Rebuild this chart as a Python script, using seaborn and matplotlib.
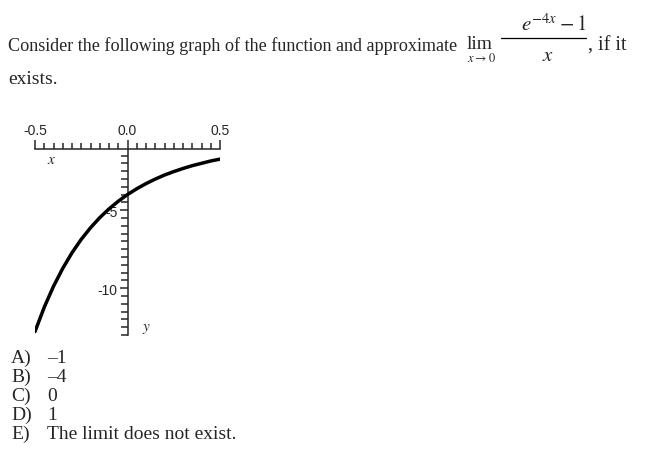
import numpy as np
import seaborn as sns
import matplotlib.pyplot as plt
from matplotlib.lines import Line2D
from matplotlib.ticker import MultipleLocator, FixedLocator

# values
x_values = [-0.5, -0.45, -0.4, -0.35, -0.3, -0.25, -0.2, -0.15, -0.1, -0.05, 0.0,
            0.05, 0.1, 0.15, 0.2, 0.25, 0.3, 0.35, 0.4, 0.45, 0.5]
y_values = [-12.78, -11.22, -9.88, -8.73, -7.73, -6.87, -6.13, -5.48, -4.92, -4.43, -4.0,
            -3.63, -3.30, -3.01, -2.75, -2.53, -2.33, -2.15, -2.00, -1.85, -1.73]
x_tick_values = [-0.5, 0.0, 0.5]
x_tick_labels = ["-0.5", "0.0", "0.5"]
y_tick_values = [-5, -10]
y_tick_labels = ["-5", "-10"]
option_letters = ["A)", "B)", "C)", "D)", "E)"]
option_texts = ["\u20131", "\u20134", "0", "1", "The limit does not exist."]

sns.set_style("white")
plt.rcParams['font.family'] = ['Liberation Serif', 'DejaVu Serif']
plt.rcParams['mathtext.fontset'] = 'stix'
plt.rcParams['axes.unicode_minus'] = False

W, H = 650, 460
fig = plt.figure(figsize=(6.5, 4.6), dpi=100)


def px(x, y):
    return x / W, 1 - y / H


# question text
fig.text(*px(8, 51), "Consider the following graph of the function and approximate",
         fontsize=13.1, va='baseline', ha='left')
fig.text(*px(467, 49), "lim", fontsize=14, va='baseline', ha='left')
fig.text(*px(481, 62), r"$x\to 0$", fontsize=9, va='baseline', ha='center')
fig.text(*px(554, 31), r"$e^{-4x}-1$", fontsize=15, va='baseline', ha='center')
fig.add_artist(Line2D([501 / W, 586 / W], [1 - 39 / H] * 2, color='black', lw=0.9))
fig.text(*px(548, 61), r"$x$", fontsize=15, va='baseline', ha='center')
fig.text(*px(588, 51), ", if it", fontsize=14.5, va='baseline', ha='left')
fig.text(*px(8, 84), "exists.", fontsize=14, va='baseline', ha='left')

# answer options
for i, (letter, text) in enumerate(zip(option_letters, option_texts)):
    base = 363 + i * 19.1
    fig.text(*px(11, base), letter, fontsize=14, va='baseline', ha='left')
    fig.text(*px(47, base), text, fontsize=14, va='baseline', ha='left')

# graph
left, right, top, bottom = 35, 220, 149.5, 336
ax = fig.add_axes([left / W, 1 - bottom / H, (right - left) / W, (bottom - top) / H])
ax.patch.set_alpha(0)
sns.lineplot(x=x_values, y=y_values, ax=ax, color='black', lw=2.5, zorder=5)
ax.set_xlim(-0.5, 0.5)
ax.set_ylim(-13.0, -1.05)

for side in ['bottom', 'right']:
    ax.spines[side].set_visible(False)
ax.spines['left'].set_position(('data', 0))
ax.spines['top'].set_linewidth(1.1)
ax.spines['left'].set_linewidth(1.1)

ax.xaxis.tick_top()
ax.xaxis.set_major_locator(FixedLocator(x_tick_values))
ax.set_xticklabels(x_tick_labels, family=['Liberation Sans', 'DejaVu Sans'], fontsize=10)
ax.xaxis.set_minor_locator(MultipleLocator(0.05))
ax.tick_params(axis='x', which='major', direction='out', length=6.5, width=1.1,
               top=True, bottom=False, labeltop=True, labelbottom=False, pad=2)
ax.tick_params(axis='x', which='minor', direction='out', length=4, width=1.1,
               top=True, bottom=False)

ax.yaxis.set_major_locator(FixedLocator(y_tick_values))
ax.set_yticklabels(y_tick_labels, family=['Liberation Sans', 'DejaVu Sans'], fontsize=10)
ax.yaxis.set_minor_locator(MultipleLocator(0.5))
ax.tick_params(axis='y', which='major', direction='out', length=5.5, width=1.1,
               left=True, right=False, pad=1.5)
ax.tick_params(axis='y', which='minor', direction='out', length=5, width=1.1,
               left=True, right=False)
ax.set_xlabel("")
ax.set_ylabel("")

# axis names
fig.text(*px(52, 164), r"$x$", fontsize=11, ha='center', va='baseline')
fig.text(*px(146, 331), r"$y$", fontsize=11, ha='center', va='baseline')

fig.savefig("out.png", dpi=100)
